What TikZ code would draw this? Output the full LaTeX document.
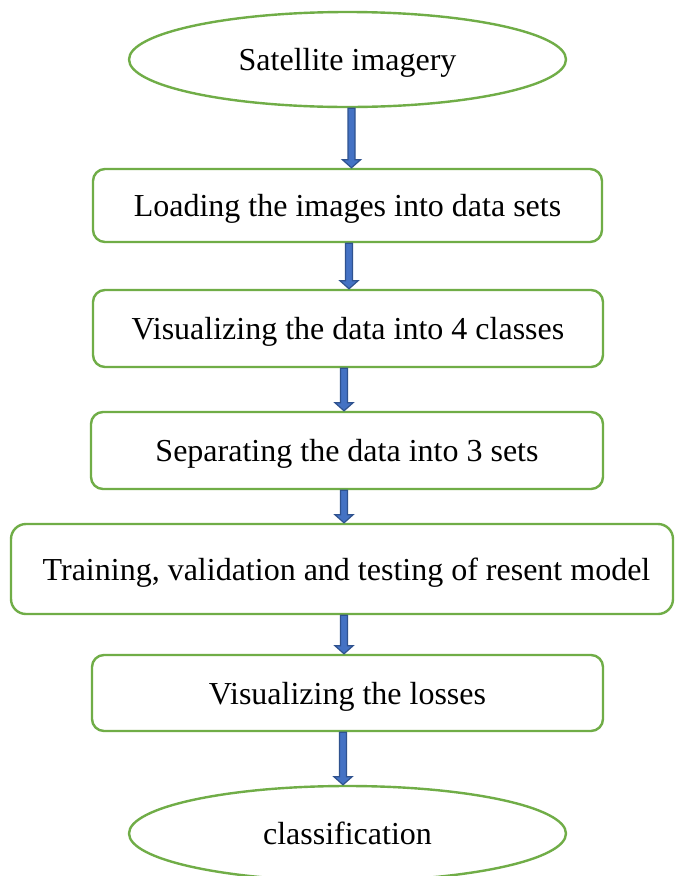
\documentclass[tikz,border=0pt]{standalone}
\usepackage{fontspec}
\setmainfont{Liberation Serif}
\usetikzlibrary{shapes.geometric,calc}
\definecolor{boxgreen}{HTML}{70AD47}
\definecolor{arrfill}{HTML}{4472C4}
\definecolor{arredge}{HTML}{2F528F}
\tikzset{
  stepbox/.style={draw=boxgreen, line width=2.4pt, rounded corners=12pt, fill=white,
    inner sep=0pt, text height=22pt, text depth=0pt, font=\fontsize{32}{36}\selectfont},
  termbox/.style={draw=boxgreen, line width=2.4pt, ellipse, fill=white,
    inner sep=0pt, text height=21pt, text depth=0pt, font=\fontsize{32}{36}\selectfont},
  arrowshape/.style={fill=arrfill, draw=arredge, line width=1.2pt, line join=miter}
}
\newcommand\blockarrow[3]{%
  \path[arrowshape] let \p1=([xshift=#3]#1.south), \p2=(#2.north) in
    (\x1-3.5pt,\y1) -- (\x1-3.5pt,\y2+8pt) -- (\x1-9pt,\y2+8pt) -- (\x1,\y2)
    -- (\x1+9pt,\y2+8pt) -- (\x1+3.5pt,\y2+8pt) -- (\x1+3.5pt,\y1) -- cycle;}
\begin{document}
\begin{tikzpicture}[x=1pt,y=-1pt]
\clip (0,0) rectangle (675,876);
\fill[white] (0,0) rectangle (675,876);
\node[termbox, minimum width=437pt, minimum height=95pt] (e1) at (347.5,59.5) {Satellite imagery};
\node[stepbox, minimum width=509pt, minimum height=73pt] (b1) at (347.5,205.5) {Loading the images into data sets};
\node[stepbox, minimum width=510pt, minimum height=77pt] (b2) at (348,328.5) {Visualizing the data into 4 classes};
\node[stepbox, minimum width=512pt, minimum height=77pt] (b3) at (347,450.5) {Separating the data into 3 sets};
\node[stepbox, minimum width=662pt, minimum height=90pt, rounded corners=15pt] (b4) at (342,569) {\hspace*{9pt}Training, validation and testing of resent model};
\node[stepbox, minimum width=511pt, minimum height=76pt] (b5) at (347.5,693) {Visualizing the losses};
\node[termbox, minimum width=437pt, minimum height=95pt] (e2) at (347.5,833.5) {classification};
\blockarrow{e1}{b1}{4pt}
\blockarrow{b1}{b2}{1.5pt}
\blockarrow{b2}{b3}{-4pt}
\blockarrow{b3}{b4}{-3pt}
\blockarrow{b4}{b5}{2pt}
\blockarrow{b5}{e2}{-4.5pt}
\end{tikzpicture}
\end{document}
